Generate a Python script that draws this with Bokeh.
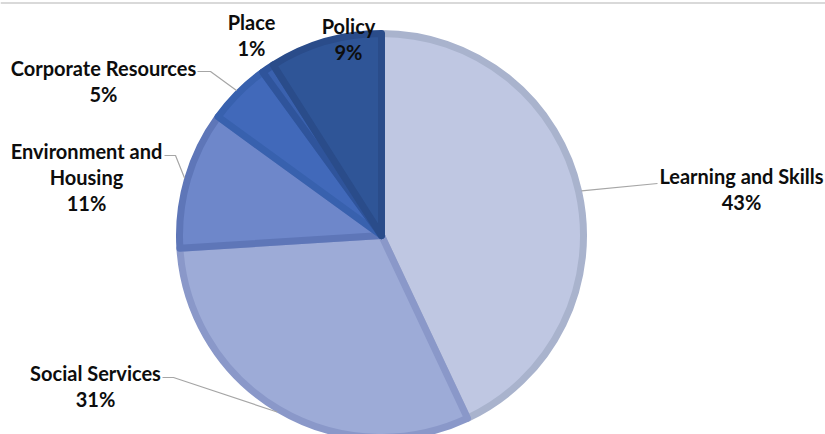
import math
from bokeh.plotting import figure
from bokeh.models import Range1d, ColumnDataSource, Span
from bokeh.core.properties import value
from bokeh.embed import file_html
from bokeh.resources import INLINE

# ---- data ----
categories = ["Learning and Skills", "Social Services", "Environment and Housing",
              "Corporate Resources", "Place", "Policy"]
shares = [43, 31, 11, 5, 1, 9]

# ---- styles ----
fill_colors = ["#BFC7E2", "#9DABD7", "#6E87CA", "#4169BA", "#3A61AE", "#2F5597"]
border_colors = ["#A9B3CD", "#8A98C9", "#5E76B8", "#3861AE", "#2F549B", "#2A4C8A"]

# ---- layout (pixel coordinates, y downward) ----
W, H = 825, 434
cx, cy, R = 381, 235, 202
label_x = [741, 95, 86, 103, 251, 348]
label_y = [175, 372, 150, 67, 21, 25]
line_gap = 26
wrap = {"Environment and Housing": ["Environment and", "Housing"]}
leader_starts = [[(657, 183)], [(162, 377), (173, 377)], [(164, 155), (175, 155)],
                 [(197, 71), (210, 71)], None, None]

p = figure(width=W, height=H, output_backend="svg", toolbar_location=None,
           x_axis_type=None, y_axis_type=None,
           x_range=Range1d(0, W), y_range=Range1d(-H, 0),
           min_border=0)
p.grid.visible = False
p.outline_line_color = None
p.background_fill_color = "white"

total = sum(shares)
starts, ends, mids = [], [], []
cum = 0.0
for s in shares:
    a0 = math.pi / 2 - 2 * math.pi * (cum + s) / total
    a1 = math.pi / 2 - 2 * math.pi * cum / total
    starts.append(a0)
    ends.append(a1)
    mids.append((a0 + a1) / 2)
    cum += s

src = ColumnDataSource(dict(start=starts, end=ends, fill=fill_colors, line=border_colors))
p.wedge(x=cx, y=-cy, radius=R, start_angle="start", end_angle="end",
        fill_color="fill", line_color="line", line_width=7, line_join="round", source=src)

# leader lines to mid-angle on outer edge
for i, st in enumerate(leader_starts):
    if not st:
        continue
    ex = cx + (R + 3) * math.cos(mids[i])
    ey = -cy + (R + 3) * math.sin(mids[i])
    xs = [pt[0] for pt in st] + [ex]
    ys = [-pt[1] for pt in st] + [ey]
    p.line(xs, ys, line_color="#A6A6A6", line_width=1.2)

# labels
tx, ty, tt = [], [], []
for i, c in enumerate(categories):
    lines = wrap.get(c, [c]) + [f"{round(100 * shares[i] / total)}%"]
    for k, ln in enumerate(lines):
        tx.append(label_x[i])
        ty.append(-(label_y[i] + k * line_gap))
        tt.append(ln)
p.text(x=tx, y=ty, text=tt, text_font=value("Lato"), text_font_style="bold",
       text_font_size="20px", text_align="center", text_baseline="middle",
       text_color="#0D0D0D")

p.add_layout(Span(location=-2.5, dimension="width", line_color="#D9D9D9", line_width=2))

open("out.html", "w").write(file_html(p, INLINE))
